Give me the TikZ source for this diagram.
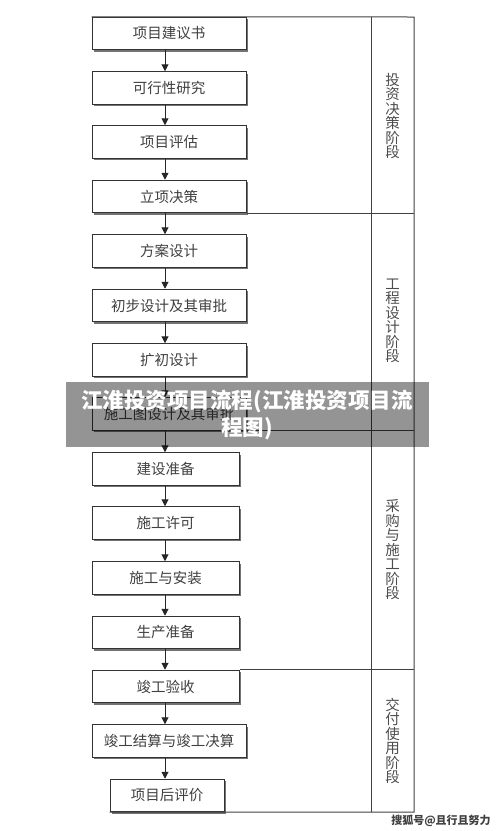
\documentclass[tikz,border=0pt]{standalone}
\usepackage{fontspec}
\setmainfont{Noto Sans CJK SC}
\usetikzlibrary{positioning, calc, arrows.meta, shadows}

\tikzset{
	stage/.style={draw=black!80, line width=1pt, fill=white, text=black!75, minimum height=32.5pt, inner sep=0pt,
		font=\fontsize{14.5}{16}\selectfont,
		drop shadow={shadow xshift=2pt, shadow yshift=-2pt, fill=black!55, opacity=1}},
	flow/.style={line width=1pt, draw=black!85, -{Triangle[length=7pt, width=7pt]}},
	frame/.style={draw=black!75, line width=1pt},
	phase/.style={text=black!70, align=center, inner sep=0pt, font=\fontsize{14.5}{14.5}\selectfont},
}

\begin{document}
\begin{tikzpicture}[x=1pt, y=-1pt]
		\useasboundingbox (0,0) rectangle (500,831);
		
		% boxes of the flow
		\node[stage, minimum width=154pt] (b1) at (169,33.5) {项目建议书};
		\node[stage, minimum width=154pt] (b2) at (169,88) {可行性研究};
		\node[stage, minimum width=154pt] (b3) at (169,142) {项目评估};
		\node[stage, minimum width=154pt] (b4) at (169,196.5) {立项决策};
		\node[stage, minimum width=154pt] (b5) at (169,251) {方案设计};
		\node[stage, minimum width=154pt] (b6) at (169,305.5) {初步设计及其审批};
		\node[stage, minimum width=154pt] (b7) at (169,360) {扩初设计};
		\node[stage, minimum width=154pt] (b8) at (169,414) {施工图设计及其审批};
		\node[stage, minimum width=147pt] (b9) at (165.5,469) {建设准备};
		\node[stage, minimum width=147pt] (b10) at (165.5,523) {施工许可};
		\node[stage, minimum width=147pt] (b11) at (165.5,578) {施工与安装};
		\node[stage, minimum width=147pt] (b12) at (165.5,632.5) {生产准备};
		\node[stage, minimum width=147pt] (b13) at (165.5,686.5) {竣工验收};
		\node[stage, minimum width=154pt] (b14) at (169,741) {竣工结算与竣工决算};
		\node[stage, minimum width=114pt] (b15) at (167,795.5) {项目后评价};
		
		% arrows all on one line
		\coordinate (ax) at (165,0);
		\foreach \i [evaluate=\i as \j using int(\i+1)] in {1,...,14}
			\draw[flow] (b\i.south -| ax) -- (b\j.north -| ax);
		
		% phase column
		\coordinate (fr-ne) at (414,17);
		\coordinate (fr-se) at (414,812);
		\coordinate (col-n) at (371,17);
		\coordinate (col-s) at (371,812);
		\draw[frame] (b1.north west) -- (fr-ne) -- (fr-se) -- (b15.south west |- fr-se);
		\draw[frame] (col-n) -- (col-s);
		\draw[frame] (b4.south east) -- (b4.south east -| fr-ne);
		\draw[frame] (b8.south east) -- (b8.south east -| fr-ne);
		\draw[frame] (b13.north east) -- (b13.north east -| fr-ne);
		
		\node[phase] (p1) at (392.5,116) {投\\资\\决\\策\\阶\\段};
		\node[phase] (p2) at (392.5,321) {工\\程\\设\\计\\阶\\段};
		\node[phase] (p3) at (392.5,550) {采\\购\\与\\施\\工\\阶\\段};
		\node[phase] (p4) at (392.5,741) {交\\付\\使\\用\\阶\\段};
		
		% watermarks
		\node[fill=black, fill opacity=0.42, text opacity=1, text=white, minimum width=363pt, minimum height=65pt,
			inner sep=0pt, align=center, font=\fontsize{21.5}{27}\selectfont\bfseries] (banner) at (247,414.5)
			{江淮投资项目流程(江淮投资项目流\\程图)};
		\node[text=black!75, inner sep=0pt, font=\fontsize{11}{12}\selectfont\bfseries] (mark) at (441,821)
			{搜狐号@且行且努力};
	\end{tikzpicture}
\end{document}
